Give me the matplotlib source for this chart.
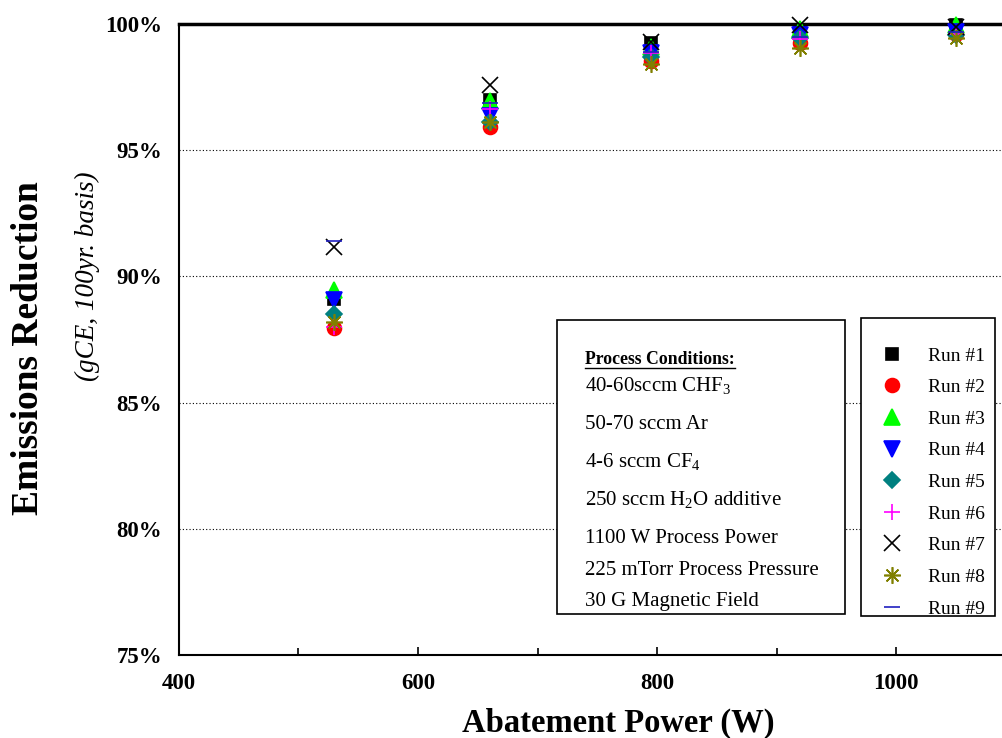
import numpy as np
import matplotlib.pyplot as plt
from matplotlib.patches import Rectangle
from matplotlib.lines import Line2D

plt.rcParams['font.family'] = ['Liberation Serif', 'DejaVu Serif']
plt.rcParams['mathtext.fontset'] = 'custom'
plt.rcParams['mathtext.rm'] = 'Liberation Serif'

# Abatement power (W)
power = [530, 660, 795, 920, 1050]

# Emissions reduction (%) per run
run1 = [89.1, 97.0, 99.25, 99.75, 99.95]
run2 = [87.95, 95.9, 98.55, 99.25, 99.6]
run3 = [89.45, 96.95, 99.1, 99.8, 99.95]
run4 = [89.05, 96.35, 98.85, 99.55, 99.7]
run5 = [88.5, 96.1, 98.7, 99.45, 99.55]
run6 = [88.0, 96.65, 98.85, 99.4, 99.6]
run7 = [91.15, 97.6, 99.3, 99.95, 99.9]
run8 = [88.2, 96.1, 98.4, 99.05, 99.45]
run9 = [91.4, 96.85, 98.9, 99.5, 99.7]

runs = [run1, run2, run3, run4, run5, run6, run7, run8, run9]
labels = [f'Run #{i}' for i in range(1, 10)]
markers = ['s', 'o', '^', 'v', 'D', '+', 'x', (8, 2, 0), '_']
colors = ['black', 'red', '#00ff00', 'blue', '#008080', 'magenta', 'black', '#808000', '#2020c0']
sizes = [9, 10, 11, 11, 8, 11, 12, 12, 11]

conditions = [
    '40-60sccm CHF$_3$',
    '50-70 sccm Ar',
    '4-6 sccm CF$_4$',
    '250 sccm H$_2$O additive',
    '1100 W Process Power',
    '225 mTorr Process Pressure',
    '30 G Magnetic Field',
]

W, H = 1002, 738
fig = plt.figure(figsize=(10.02, 7.38), dpi=100)
ax = fig.add_axes([0.1786, 0.1125, 0.835, 0.855])

handles = []
for y, lab, m, c, s in zip(runs, labels, markers, colors, sizes):
    h, = ax.plot(power, y, linestyle='none', marker=m, color=c, markersize=s,
                 markeredgewidth=1.2, label=lab, clip_on=False, zorder=3)
    handles.append(h)

ax.set_xlim(400, 1100)
ax.set_ylim(75, 100)
ax.set_xticks([400, 600, 800, 1000])
ax.set_xticks([500, 700, 900, 1100], minor=True)
ax.set_yticks([75, 80, 85, 90, 95, 100])
ax.set_yticklabels([f'{v}%' for v in [75, 80, 85, 90, 95, 100]])
ax.tick_params(axis='both', which='major', labelsize=16.5, direction='in', width=1.2)
ax.tick_params(axis='x', which='major', length=6, pad=13)
ax.tick_params(axis='x', which='minor', direction='in', length=5, width=1.2)
ax.tick_params(axis='y', length=0, pad=12)
for t in ax.get_xticklabels() + ax.get_yticklabels():
    t.set_fontweight('bold')

ax.yaxis.grid(True, linestyle=(0, (1, 2)), color='black', linewidth=0.8)
ax.set_axisbelow(True)
for sp in ['left', 'bottom']:
    ax.spines[sp].set_linewidth(1.5)
ax.spines['top'].set_linewidth(2.5)
ax.spines['right'].set_visible(False)

ax.set_xlabel('Abatement Power (W)', fontsize=23.5, fontweight='bold')
ax.xaxis.set_label_coords(0.525, -0.084)
fig.text(0.028, 1 - 348 / H, 'Emissions Reduction', rotation=90, fontsize=27,
         fontweight='bold', ha='center', va='center')
fig.text(0.087, 1 - 276 / H, '(gCE, 100yr. basis)', rotation=90, fontsize=19.5,
         style='italic', ha='center', va='center')

# process conditions box
fig.patches.append(Rectangle((557 / W, 1 - 614 / H), 288 / W, 294 / H,
                             transform=fig.transFigure, facecolor='white',
                             edgecolor='black', linewidth=1.2))
fig.text(585 / W, 1 - 364 / H, 'Process Conditions:', fontsize=12.8,
         fontweight='bold', va='baseline', ha='left')
fig.lines.append(Line2D([585 / W, 735 / W], [1 - 368 / H, 1 - 368 / H],
                        transform=fig.transFigure, color='black', linewidth=1))
baselines = [391, 429, 467, 505, 543, 575, 606]
for yy, txt in zip(baselines, conditions):
    fig.text(585 / W, 1 - yy / H, txt, fontsize=15, va='baseline', ha='left')

# legend box
fig.patches.append(Rectangle((861 / W, 1 - 616 / H), 134 / W, 298 / H,
                             transform=fig.transFigure, facecolor='white',
                             edgecolor='black', linewidth=1.2))
fig.legend(handles, labels, loc='upper left',
           bbox_to_anchor=(877 / W, 1 - 347 / H),
           bbox_transform=fig.transFigure, frameon=False,
           fontsize=14, labelspacing=0.72, handletextpad=1.1,
           borderpad=0, handlelength=1.5, borderaxespad=0)

fig.savefig('out.png', dpi=100)
